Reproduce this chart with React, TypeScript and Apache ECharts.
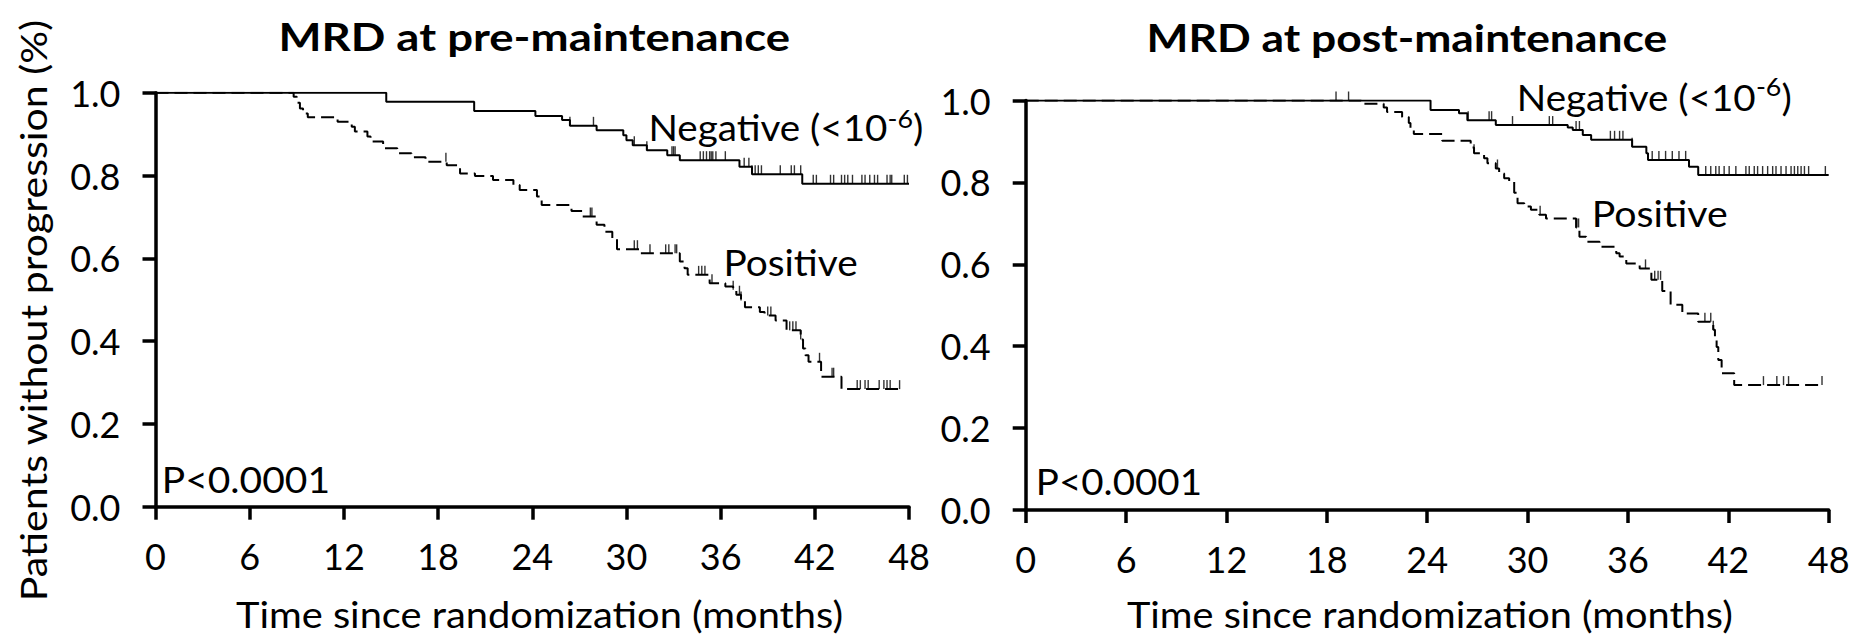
import React, { useEffect, useRef } from 'react';
import * as echarts from 'echarts';

const FONT = 'Lato';

// ---- MRD at pre-maintenance ----
const preNegEventMonths = [14.7, 20.3, 24.2, 25.9, 26.4, 28.1, 29.8, 30.0, 30.4, 31.3, 32.6, 33.4, 37.2, 38.0, 41.2];
const preNegSurvival = [0.978, 0.956, 0.944, 0.934, 0.920, 0.909, 0.897, 0.885, 0.873, 0.861, 0.849, 0.837, 0.821, 0.803, 0.780];
const preNegCensorMonths = [26.4, 27.9, 30.5, 31.3, 32.9, 33.0, 33.1, 34.7, 34.9, 35.1, 35.3, 35.4, 35.5, 35.7, 36.3, 37.5, 37.8, 38.0, 38.2, 38.4, 38.6, 39.8, 40.5, 40.7, 41.1, 41.9, 42.1, 43.0, 43.2, 43.7, 43.9, 44.1, 44.4, 45.0, 45.2, 45.5, 45.8, 46.0, 46.6, 46.8, 46.9, 47.7, 47.9];
const preNegLastMonth = 48;

const prePosEventMonths = [8.8, 9.0, 9.2, 9.4, 9.7, 11.6, 12.5, 12.7, 13.5, 13.7, 14.5, 15.4, 16.3, 17.2, 18.55, 19.4, 20.35, 21.5, 22.8, 23.2, 24.3, 24.6, 26.5, 27.2, 28.1, 28.6, 29.1, 29.4, 30.9, 33.4, 33.7, 33.9, 35.3, 36.3, 36.8, 37.0, 37.3, 37.55, 38.5, 38.8, 39.5, 40.2, 41.1, 41.25, 41.4, 41.6, 42.4, 43.7];
const prePosSurvival = [0.990, 0.976, 0.962, 0.950, 0.941, 0.930, 0.918, 0.906, 0.894, 0.882, 0.866, 0.854, 0.844, 0.833, 0.825, 0.805, 0.799, 0.789, 0.777, 0.765, 0.749, 0.729, 0.714, 0.701, 0.681, 0.664, 0.648, 0.622, 0.612, 0.592, 0.576, 0.560, 0.540, 0.532, 0.524, 0.512, 0.498, 0.482, 0.470, 0.462, 0.450, 0.426, 0.404, 0.382, 0.366, 0.350, 0.314, 0.284];
const prePosCensorMonths = [18.5, 27.7, 27.8, 30.5, 30.7, 31.5, 32.5, 32.7, 33.1, 33.2, 34.6, 34.8, 35.0, 35.45, 36.8, 37.2, 37.3, 39.0, 39.2, 40.4, 40.6, 40.8, 41.1, 42.3, 43.1, 43.2, 44.7, 44.9, 45.2, 45.4, 46.1, 46.4, 46.6, 46.8, 47.4];
const prePosLastMonth = 47.6;

// ---- MRD at post-maintenance ----
const postNegEventMonths = [24.2, 25.9, 26.4, 28.1, 32.4, 32.7, 33.3, 33.8, 36.25, 37.1, 37.2, 39.65, 40.2];
const postNegSurvival = [0.977, 0.969, 0.952, 0.940, 0.934, 0.928, 0.916, 0.904, 0.887, 0.871, 0.855, 0.838, 0.818];
const postNegCensorMonths = [18.55, 19.3, 26.45, 27.7, 27.85, 29.1, 31.3, 31.5, 32.9, 33.1, 34.95, 35.2, 35.5, 35.7, 36.25, 37.45, 37.85, 38.25, 38.65, 39.05, 39.45, 40.65, 40.95, 41.25, 41.45, 41.75, 42.05, 42.45, 43.05, 43.25, 43.55, 43.75, 44.05, 44.35, 44.65, 44.85, 45.15, 45.45, 45.75, 45.95, 46.15, 46.35, 46.55, 46.8, 47.8];
const postNegLastMonth = 48;

const postPosEventMonths = [20.05, 21.4, 21.6, 22.5, 22.9, 23.0, 23.2, 24.9, 26.6, 26.8, 27.4, 27.6, 28.1, 28.3, 28.6, 28.9, 29.2, 29.4, 29.8, 30.2, 30.7, 31.1, 32.9, 33.1, 33.5, 34.3, 35.3, 35.5, 35.9, 36.7, 37.4, 38.05, 38.55, 39.25, 40.2, 41.1, 41.2, 41.3, 41.4, 41.6, 42.35];
const postPosSurvival = [0.992, 0.983, 0.972, 0.960, 0.945, 0.932, 0.918, 0.902, 0.885, 0.871, 0.859, 0.847, 0.834, 0.822, 0.810, 0.802, 0.775, 0.749, 0.741, 0.733, 0.721, 0.712, 0.690, 0.667, 0.655, 0.643, 0.627, 0.619, 0.602, 0.590, 0.562, 0.535, 0.501, 0.480, 0.460, 0.440, 0.420, 0.398, 0.366, 0.334, 0.305];
const postPosCensorMonths = [26.8, 28.2, 30.75, 32.95, 33.05, 37.05, 37.6, 37.8, 37.95, 40.6, 40.95, 41.1, 44.1, 44.9, 45.3, 45.6, 47.6];
const postPosLastMonth = 47.7;

// axes
const MONTH_MIN = 0;
const MONTH_MAX = 48;
const MONTH_STEP = 6;
const SURV_MIN = 0;
const SURV_MAX = 1;
const SURV_STEP = 0.2;

const panelTitles = ['MRD at pre-maintenance', 'MRD at post-maintenance'];
const xAxisTitle = 'Time since randomization (months)';
const yAxisTitle = 'Patients without progression (%)';
const pValueText = 'P<0.0001';
const negLabelMain = 'Negative (<10';
const negLabelSup = '-6';
const negLabelEnd = ')';
const posLabel = 'Positive';

function stepData(months: number[], surv: number[], last: number) {
  const pts: number[][] = [[0, 1]];
  months.forEach((m, i) => pts.push([m, surv[i]]));
  pts.push([last, surv[surv.length - 1]]);
  return pts;
}

function survivalAt(months: number[], surv: number[], t: number) {
  let s = 1;
  for (let i = 0; i < months.length; i++) {
    if (months[i] <= t) s = surv[i];
  }
  return s;
}

let measureCtx: CanvasRenderingContext2D | null = null;
function ink(text: string, size: number, weight = 'normal') {
  if (!measureCtx) measureCtx = document.createElement('canvas').getContext('2d');
  const ctx = measureCtx as CanvasRenderingContext2D;
  ctx.font = `${weight} ${size}px ${FONT}`;
  const m = ctx.measureText(text);
  return { left: m.actualBoundingBoxLeft, right: m.actualBoundingBoxRight, adv: m.width };
}

// horizontal text whose ink spans [left, left+width], vertically centred on mid
function stretched(text: string, size: number, left: number, width: number, mid: number, weight = 'normal') {
  const k = ink(text, size, weight);
  const s = width / (k.left + k.right);
  return {
    type: 'text',
    x: left + k.left * s,
    y: mid,
    scaleX: s,
    z: 10,
    style: { text, fontFamily: FONT, fontSize: size, fontWeight: weight, fill: '#000', align: 'left', verticalAlign: 'middle' },
  };
}

// rotated (bottom-to-top) text centred at (cx, cy), ink length along the text
function rotatedStretched(text: string, size: number, cx: number, cy: number, length: number) {
  const k = ink(text, size);
  const s = length / (k.left + k.right);
  const inkCenter = ((k.right - k.left) / 2) * s;
  return {
    type: 'text',
    x: cx,
    y: cy + inkCenter,
    rotation: Math.PI / 2,
    scaleX: s,
    z: 10,
    style: { text, fontFamily: FONT, fontSize: size, fill: '#000', align: 'left', verticalAlign: 'middle' },
  };
}

// "Negative (<10^-6)" with a raised exponent
function negativeLabel(left: number, right: number, mid: number, supMid: number) {
  const mainSize = 36;
  const supSize = 25;
  const a = ink(negLabelMain, mainSize);
  const b = ink(negLabelSup, supSize);
  const c = ink(negLabelEnd, mainSize);
  const natural = a.left + a.adv + b.adv + c.right;
  const s = (right - left) / natural;
  const x0 = left + a.left * s;
  const x1 = x0 + a.adv * s;
  const x2 = x1 + b.adv * s;
  const mk = (text: string, size: number, x: number, y: number) => ({
    type: 'text',
    x,
    y,
    scaleX: s,
    z: 10,
    style: { text, fontFamily: FONT, fontSize: size, fill: '#000', align: 'left', verticalAlign: 'middle' },
  });
  return [mk(negLabelMain, mainSize, x0, mid), mk(negLabelSup, supSize, x1, supMid), mk(negLabelEnd, mainSize, x2, mid)];
}

function curveSeries(idx: number, months: number[], surv: number[], last: number, dashed: boolean) {
  return {
    type: 'line',
    xAxisIndex: idx,
    yAxisIndex: idx,
    step: 'end',
    showSymbol: false,
    symbol: 'none',
    data: stepData(months, surv, last),
    lineStyle: { color: '#000', width: 2, type: dashed ? [13, 6] : 'solid' },
    z: 3,
  };
}

function censorSeries(idx: number, months: number[], surv: number[], censors: number[]) {
  return {
    type: 'scatter',
    xAxisIndex: idx,
    yAxisIndex: idx,
    symbol: 'rect',
    symbolSize: [1.4, 9],
    symbolOffset: [0, '-50%'],
    itemStyle: { color: '#000' },
    data: censors.map((t) => [t, survivalAt(months, surv, t)]),
    z: 4,
  };
}

const TICK_FONT = 36;

function xAxisFor(idx: number) {
  return {
    type: 'value',
    gridIndex: idx,
    min: MONTH_MIN,
    max: MONTH_MAX,
    interval: MONTH_STEP,
    axisLine: { lineStyle: { color: '#000', width: 3.5 } },
    axisTick: { length: 13, lineStyle: { color: '#000', width: 3.5 } },
    axisLabel: { color: '#000', fontFamily: FONT, fontSize: TICK_FONT, margin: 31 },
    splitLine: { show: false },
  };
}

function yAxisFor(idx: number) {
  return {
    type: 'value',
    gridIndex: idx,
    min: SURV_MIN,
    max: SURV_MAX,
    interval: SURV_STEP,
    axisLine: { lineStyle: { color: '#000', width: 3.5 } },
    axisTick: { length: 13, lineStyle: { color: '#000', width: 3.5 } },
    axisLabel: { color: '#000', fontFamily: FONT, fontSize: TICK_FONT, margin: 35, formatter: (v: number) => v.toFixed(1) },
    splitLine: { show: false },
  };
}

export default function App() {
  const ref = useRef<HTMLDivElement>(null);

  useEffect(() => {
    if (!ref.current) return;
    const chart = echarts.init(ref.current, null, { renderer: 'svg' });

    const graphics: any[] = [
      stretched(panelTitles[0], 38, 282, 508, 37, 'bold'),
      stretched(panelTitles[1], 38, 1150, 517, 37.5, 'bold'),
      stretched(xAxisTitle, 37, 236, 606, 614),
      stretched(xAxisTitle, 37, 1127, 605, 614),
      rotatedStretched(yAxisTitle, 37, 32, 309, 578),
      stretched(pValueText, 36, 165, 163, 479),
      stretched(pValueText, 36, 1039, 161, 481),
      stretched(posLabel, 36, 726.7, 130, 262.5),
      stretched(posLabel, 36, 1595, 131.7, 213.3),
      ...negativeLabel(651.7, 921.7, 127.5, 118.5),
      ...negativeLabel(1520, 1790, 97.5, 86.5),
    ];

    chart.setOption({
      animation: false,
      backgroundColor: '#fff',
      grid: [
        { left: 155.5, top: 92.7, width: 753.5, height: 414 },
        { left: 1025.7, top: 100.5, width: 803, height: 409.5 },
      ],
      xAxis: [xAxisFor(0), xAxisFor(1)],
      yAxis: [yAxisFor(0), yAxisFor(1)],
      series: [
        curveSeries(0, preNegEventMonths, preNegSurvival, preNegLastMonth, false),
        curveSeries(0, prePosEventMonths, prePosSurvival, prePosLastMonth, true),
        censorSeries(0, preNegEventMonths, preNegSurvival, preNegCensorMonths),
        censorSeries(0, prePosEventMonths, prePosSurvival, prePosCensorMonths),
        curveSeries(1, postNegEventMonths, postNegSurvival, postNegLastMonth, false),
        curveSeries(1, postPosEventMonths, postPosSurvival, postPosLastMonth, true),
        censorSeries(1, postNegEventMonths, postNegSurvival, postNegCensorMonths),
        censorSeries(1, postPosEventMonths, postPosSurvival, postPosCensorMonths),
      ],
      graphic: graphics,
    });

    return () => chart.dispose();
  }, []);

  return <div ref={ref} style={{ position: 'absolute', left: 0, top: 0, width: 1866, height: 637 }} />;
}
